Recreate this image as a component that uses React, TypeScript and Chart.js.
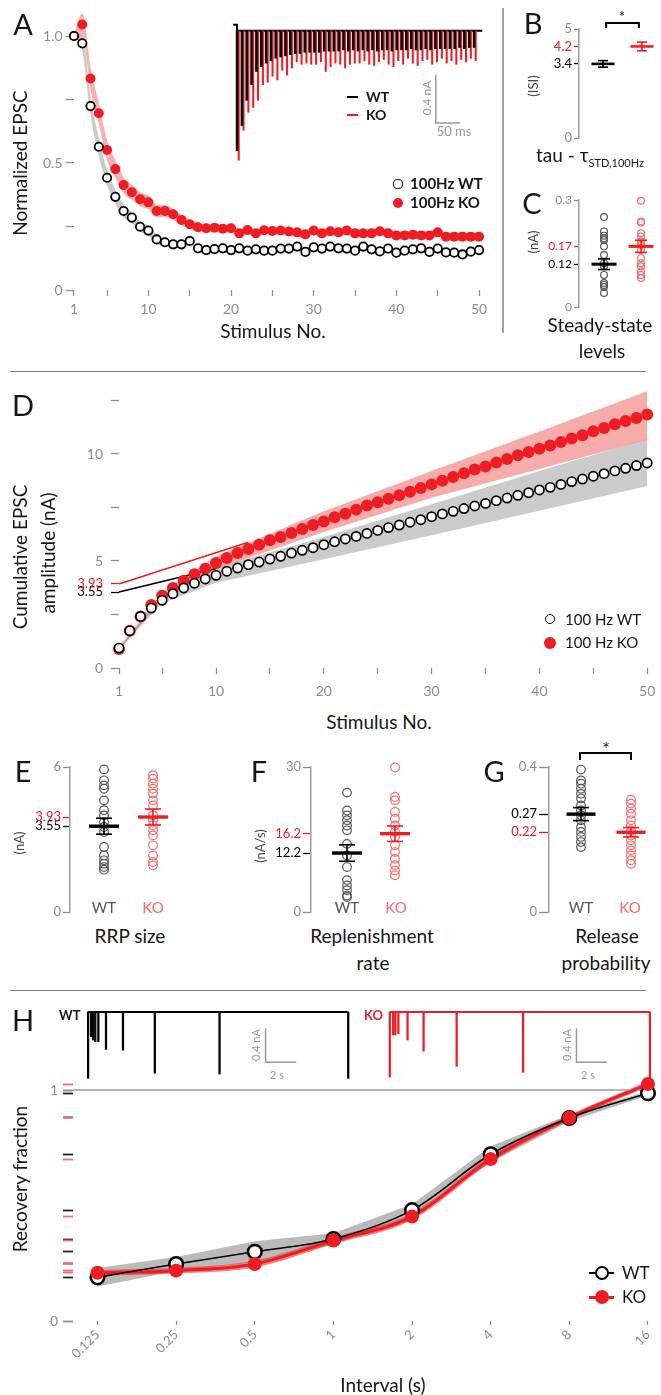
import React, { useEffect, useRef } from 'react';
import { Chart, registerables } from 'chart.js';

Chart.register(...registerables);

const FONT = 'Lato, "Open Sans", "DejaVu Sans", sans-serif';
Chart.defaults.font.family = FONT;

const RED = '#ee1d24';
const PINK = '#f76b6b';
const DOT_GRAY = '#555555';
const TICK_GRAY = '#8c8c8c';
const AXIS_GRAY = '#9d9d9d';
const INK = '#161616';

// ---------------- Panel A: normalized EPSC (100 Hz) ----------------
const stimNo = [1, 2, 3, 4, 5, 6, 7, 8, 9, 10, 11, 12, 13, 14, 15, 16, 17, 18, 19, 20, 21, 22, 23, 24, 25,
  26, 27, 28, 29, 30, 31, 32, 33, 34, 35, 36, 37, 38, 39, 40, 41, 42, 43, 44, 45, 46, 47, 48, 49, 50];
const normWT = [1.0, 0.971, 0.724, 0.564, 0.442, 0.367, 0.311, 0.285, 0.249, 0.234,
  0.199, 0.188, 0.180, 0.180, 0.193, 0.164, 0.157, 0.161, 0.164, 0.157,
  0.164, 0.155, 0.160, 0.155, 0.155, 0.163, 0.163, 0.171, 0.150, 0.168,
  0.163, 0.171, 0.164, 0.163, 0.155, 0.171, 0.160, 0.152, 0.163, 0.147,
  0.155, 0.160, 0.164, 0.150, 0.163, 0.148, 0.147, 0.140, 0.151, 0.157];
const normKO = [1.0, 1.045, 0.833, 0.696, 0.551, 0.476, 0.413, 0.385, 0.357, 0.345,
  0.311, 0.311, 0.298, 0.276, 0.259, 0.247, 0.243, 0.245, 0.241, 0.243,
  0.223, 0.236, 0.223, 0.235, 0.232, 0.234, 0.230, 0.227, 0.219, 0.234,
  0.223, 0.231, 0.227, 0.234, 0.223, 0.223, 0.223, 0.231, 0.223, 0.215,
  0.215, 0.218, 0.215, 0.215, 0.227, 0.210, 0.210, 0.210, 0.210, 0.210];
const normWTsem = [0.005, 0.03, 0.035, 0.035, 0.03, 0.028, 0.025, 0.022, 0.02, 0.02,
  0.018, 0.016, 0.015, 0.015, 0.015, 0.013, 0.013, 0.013, 0.013, 0.013,
  0.013, 0.013, 0.013, 0.013, 0.013, 0.013, 0.013, 0.013, 0.013, 0.013,
  0.013, 0.013, 0.013, 0.013, 0.013, 0.013, 0.013, 0.013, 0.013, 0.013,
  0.013, 0.013, 0.013, 0.013, 0.013, 0.013, 0.013, 0.013, 0.013, 0.013];
const normKOsem = [0.005, 0.045, 0.045, 0.04, 0.038, 0.035, 0.032, 0.03, 0.028, 0.027,
  0.025, 0.024, 0.022, 0.02, 0.019, 0.018, 0.017, 0.017, 0.016, 0.016,
  0.016, 0.016, 0.016, 0.016, 0.016, 0.016, 0.016, 0.016, 0.016, 0.016,
  0.016, 0.016, 0.016, 0.016, 0.016, 0.016, 0.016, 0.016, 0.016, 0.016,
  0.016, 0.016, 0.016, 0.016, 0.016, 0.016, 0.016, 0.016, 0.016, 0.016];
const aXTicks = [1, 5, 10, 15, 20, 25, 30, 35, 40, 45, 50];
const aXTickLabels = ['1', '', '10', '', '20', '', '30', '', '40', '', '50'];
const aYTicks = [0, 0.25, 0.5, 0.75, 1];
const aYTickLabels = ['0', '', '0.5', '', '1.0'];

// inset: example EPSC trains (nA), one response per 10 ms stimulus
const STIM_MS = 10;
const insetWTnA = [1.00, 0.79, 0.58, 0.45, 0.34, 0.30, 0.27, 0.25, 0.23, 0.22,
  0.21, 0.20, 0.19, 0.19, 0.18, 0.18, 0.18, 0.18, 0.17, 0.17,
  0.17, 0.17, 0.16, 0.17, 0.16, 0.17, 0.16, 0.17, 0.16, 0.17,
  0.16, 0.16, 0.17, 0.16, 0.16, 0.16, 0.15, 0.16, 0.16, 0.15,
  0.16, 0.15, 0.15, 0.15, 0.15, 0.15, 0.14, 0.15, 0.14, 0.14];
const insetKOnA = [1.08, 0.83, 0.68, 0.64, 0.58, 0.45, 0.43, 0.38, 0.41, 0.33,
  0.37, 0.31, 0.26, 0.28, 0.27, 0.28, 0.28, 0.26, 0.34, 0.30,
  0.27, 0.28, 0.31, 0.28, 0.27, 0.27, 0.25, 0.28, 0.29, 0.26,
  0.24, 0.28, 0.30, 0.25, 0.28, 0.23, 0.27, 0.29, 0.25, 0.24,
  0.28, 0.26, 0.23, 0.27, 0.25, 0.28, 0.24, 0.26, 0.23, 0.25];
const insetBaseT = [-10, -2, -2, 505];
const insetBaseV = [0.05, 0.05, 0, 0];
const insetBar = { t: 409, v: -0.77, ms: 50, nA: 0.4 };

// ---------------- Panel B: tau ----------------
const tauMean = [3.4, 4.2];
const tauSem = [0.15, 0.2];
const bTicks = [0, 3.4, 4.2, 5];

// ---------------- Panel C: steady state (nA) ----------------
const ssWT = [0.252, 0.212, 0.200, 0.193, 0.188, 0.170, 0.146, 0.123, 0.114, 0.090, 0.067, 0.062, 0.056, 0.039];
const ssKO = [0.298, 0.240, 0.237, 0.207, 0.198, 0.184, 0.174, 0.160, 0.137, 0.123, 0.114, 0.100, 0.090, 0.081];
const ssMean = [0.12, 0.17];
const ssSem = [0.015, 0.017];
const cTicks = [0, 0.12, 0.17, 0.3];

// ---------------- Panel D: cumulative EPSC (nA) ----------------
const cumWT = [0.93, 1.74, 2.41, 2.80, 3.16, 3.47, 3.74, 3.96, 4.16, 4.33,
  4.52, 4.67, 4.83, 4.95, 5.09, 5.22, 5.37, 5.50, 5.62, 5.76,
  5.90, 6.03, 6.15, 6.29, 6.43, 6.56, 6.68, 6.81, 6.93, 7.07,
  7.20, 7.32, 7.45, 7.57, 7.69, 7.82, 7.94, 8.07, 8.19, 8.32,
  8.44, 8.58, 8.71, 8.83, 8.96, 9.08, 9.21, 9.33, 9.46, 9.58];
const cumKO = [0.89, 1.74, 2.41, 2.94, 3.38, 3.74, 4.08, 4.38, 4.64, 4.91,
  5.14, 5.37, 5.56, 5.76, 5.97, 6.12, 6.31, 6.50, 6.68, 6.85,
  7.04, 7.21, 7.40, 7.59, 7.74, 7.91, 8.07, 8.24, 8.41, 8.58,
  8.75, 8.93, 9.10, 9.27, 9.42, 9.60, 9.77, 9.94, 10.09, 10.25,
  10.40, 10.56, 10.72, 10.87, 11.06, 11.21, 11.39, 11.54, 11.68, 11.84];
const cumBandStim = [1, 5, 10, 20, 30, 40, 50];
const cumWTlo = [0.86, 3.02, 3.98, 5.08, 6.20, 7.35, 8.50];
const cumWThi = [1.00, 3.30, 4.68, 6.12, 7.65, 9.20, 10.70];
const cumKOlo = [0.82, 3.24, 4.62, 6.35, 7.95, 9.30, 10.67];
const cumKOhi = [0.96, 3.52, 5.22, 7.32, 9.20, 11.05, 12.93];
const fitEndStim = [10, 13];
const dXTicks = [1, 5, 10, 15, 20, 25, 30, 35, 40, 45, 50];
const dXTickLabels = ['1', '', '10', '', '20', '', '30', '', '40', '', '50'];

// ---------------- Panels E, F, G ----------------
const rrpWT = [5.90, 5.45, 5.24, 5.10, 4.62, 4.21, 4.00, 3.72, 3.52, 3.31, 2.69, 2.34, 2.14, 2.00, 1.86, 1.75];
const rrpKO = [5.66, 5.52, 5.31, 5.10, 4.90, 4.62, 4.41, 4.00, 3.79, 3.59, 3.38, 3.17, 2.76, 2.34, 2.07, 1.93];
const rrpMean = [3.55, 3.93];
const rrpSem = [0.33, 0.33];
const repWT = [24.7, 21.0, 20.0, 19.0, 17.9, 16.9, 14.1, 11.7, 9.3, 6.6, 5.5, 4.5, 3.4, 3.1];
const repKO = [29.9, 23.8, 23.1, 20.7, 19.3, 17.9, 16.6, 15.5, 13.8, 12.4, 11.0, 9.7, 8.6, 7.6];
const repMean = [12.2, 16.2];
const repSem = [1.7, 1.6];
const prWT = [0.393, 0.363, 0.354, 0.340, 0.326, 0.313, 0.294, 0.280, 0.267, 0.253, 0.234, 0.221, 0.207, 0.193, 0.179];
const prKO = [0.310, 0.299, 0.285, 0.271, 0.253, 0.239, 0.225, 0.211, 0.198, 0.184, 0.170, 0.156, 0.143, 0.133];
const prMean = [0.27, 0.22];
const prSem = [0.018, 0.013];

// ---------------- Panel H: recovery ----------------
const intervalLabels = ['0.125', '0.25', '0.5', '1', '2', '4', '8', '16'];
const recWT = [0.189, 0.247, 0.300, 0.355, 0.480, 0.722, 0.879, 0.986];
const recKO = [0.209, 0.218, 0.247, 0.348, 0.452, 0.701, 0.880, 1.026];
const recWTsem = [0.04, 0.03, 0.045, 0.025, 0.025, 0.035, 0.015, 0.01];
const recKOsem = [0.012, 0.012, 0.015, 0.015, 0.015, 0.015, 0.012, 0.012];
const traceWTt = [0, 0.2, 0.33, 0.47, 0.67, 1.17, 2.28, 4.36, 8.59, 17.0];
const traceWTa = [0.78, 0.29, 0.33, 0.35, 0.35, 0.44, 0.45, 0.72, 0.73, 0.78];
const traceKOt = [0, 0.22, 0.36, 0.56, 1.16, 2.21, 4.37, 8.71, 17.0];
const traceKOa = [0.765, 0.27, 0.27, 0.255, 0.33, 0.46, 0.64, 0.71, 0.84];
const traceBarT0 = [11.6, 12.2];
const traceBar = { v: -0.59, s: 2, nA: 0.4 };

// ---------------- helpers ----------------
const d = (o: any) => ({ clip: false, ...o });
const zeroPad = (s: any) => { s.paddingLeft = 0; s.paddingRight = 0; s.paddingTop = 0; s.paddingBottom = 0; };
const TR = 'rgba(0,0,0,0)';

function opts(scales: any, padding: any) {
  return {
    responsive: false,
    animation: false,
    events: [],
    layout: { padding, autoPadding: false },
    plugins: { legend: { display: false }, tooltip: { enabled: false } },
    scales,
  };
}

function hidden(min: number, max: number) {
  return { type: 'linear', display: false, min, max, bounds: 'data', offset: false, grid: { offset: false } };
}

function leftAxis(p: any) {
  return {
    type: 'linear', position: 'left', min: p.min, max: p.max, bounds: 'data',
    afterBuildTicks: (s: any) => { s.ticks = p.ticks.map((v: number) => ({ value: v })); },
    afterFit: (s: any) => { s.width = p.width; zeroPad(s); },
    ticks: {
      autoSkip: false,
      padding: p.pad,
      color: (c: any) => (c.tick ? p.color(c.tick.value, c.index) : TICK_GRAY),
      font: (c: any) => ({ family: FONT, size: c.tick ? p.size(c.tick.value, c.index) : 13 }),
      callback: (v: any, i: number) => p.label(Number(v), i),
    },
    grid: {
      display: true, drawOnChartArea: false, drawTicks: true, tickLength: p.tickLen, tickWidth: p.tickW || 1.3,
      tickColor: (c: any) => (c.tick ? p.color(c.tick.value, c.index) : TICK_GRAY),
    },
    border: p.border ? { display: true, color: AXIS_GRAY, width: 1.5 } : { display: false },
  };
}

function bottomAxis(p: any) {
  return {
    type: 'linear', position: 'bottom', min: p.min, max: p.max, bounds: 'data', offset: false,
    afterBuildTicks: (s: any) => { s.ticks = p.ticks.map((v: number) => ({ value: v })); },
    afterFit: (s: any) => { s.height = p.height; zeroPad(s); },
    ticks: {
      autoSkip: false, padding: p.pad, color: TICK_GRAY,
      font: { family: FONT, size: p.size },
      minRotation: p.rot || 0, maxRotation: p.rot || 0,
      callback: (v: any, i: number) => p.label(Number(v), i),
    },
    grid: { display: true, drawOnChartArea: false, drawTicks: true, tickLength: p.tickLen, tickWidth: 1.2, tickColor: TICK_GRAY, offset: false },
    border: { display: false },
  };
}

function band(xs: number[], ys: number[], color: string | null, tension = 'monotone') {
  return d({
    type: 'line', data: xs.map((x, i) => ({ x, y: ys[i] })), borderColor: TR, borderWidth: 0, pointRadius: 0,
    fill: color ? '+1' : false, backgroundColor: color || TR, cubicInterpolationMode: tension,
  });
}

// ---------------- chart builders ----------------
function makeA() {
  const pts = (ys: number[]) => stimNo.map((n, i) => ({ x: n, y: ys[i] }));
  return {
    type: 'scatter',
    data: {
      datasets: [
        d({ type: 'scatter', data: pts(normWT), pointRadius: 4.2, pointBorderWidth: 1.8, borderColor: '#000', backgroundColor: '#fff', pointBorderColor: '#000', pointBackgroundColor: '#fff' }),
        d({ type: 'scatter', data: pts(normKO), pointRadius: 5, pointBorderWidth: 0, borderColor: RED, backgroundColor: RED, pointBorderColor: RED, pointBackgroundColor: RED }),
        band(stimNo, normKO.map((v, i) => v + normKOsem[i]), 'rgba(240,80,80,0.45)'),
        band(stimNo, normKO.map((v, i) => v - normKOsem[i]), null),
        band(stimNo, normWT.map((v, i) => v + normWTsem[i]), 'rgba(150,150,150,0.5)'),
        band(stimNo, normWT.map((v, i) => v - normWTsem[i]), null),
      ],
    },
    options: opts({
      x: bottomAxis({ min: 0.94, max: 51, height: 40, ticks: aXTicks, label: (_v: number, i: number) => aXTickLabels[i], tickLen: 6, pad: 5, size: 14 }),
      y: leftAxis({ min: 0, max: 1.1, width: 73.5, ticks: aYTicks, label: (_v: number, i: number) => aYTickLabels[i], color: () => TICK_GRAY, size: () => 14, tickLen: 8, pad: 3 }),
    }, { left: 0, top: 10.6, right: 12.7, bottom: 0 }),
  };
}

function makeInset() {
  const t = stimNo.map((n) => (n - 1) * STIM_MS);
  return {
    type: 'bar',
    data: {
      datasets: [
        d({ type: 'bar', data: t.map((x, i) => ({ x, y: [0, -insetWTnA[i]] })), backgroundColor: '#000', borderWidth: 0, barThickness: 1.9, grouped: true }),
        d({ type: 'bar', data: t.map((x, i) => ({ x, y: [0, -insetKOnA[i]] })), backgroundColor: RED, borderWidth: 0, barThickness: 1.4, grouped: true }),
        d({ type: 'line', data: insetBaseT.map((x, i) => ({ x, y: insetBaseV[i] })), borderColor: '#000', borderWidth: 2, pointRadius: 0 }),
        d({ type: 'line', data: [{ x: insetBar.t, y: insetBar.v + insetBar.nA }, { x: insetBar.t, y: insetBar.v }, { x: insetBar.t + insetBar.ms, y: insetBar.v }], borderColor: '#9a9a9a', borderWidth: 1.5, pointRadius: 0 }),
      ],
    },
    options: opts({ x: hidden(-26.9, 510.7), y: hidden(-1.119, 0.131) }, 0),
  };
}

function makeDots(p: any) {
  const cols = ['#000', RED];
  const sets: any[] = [];
  p.mean.forEach((m: number, i: number) => sets.push(d({ type: 'scatter', data: [{ x: i, y: m }], pointStyle: 'line', pointRadius: p.barR, pointBorderWidth: p.barW, borderColor: cols[i], backgroundColor: cols[i], pointBorderColor: cols[i], pointBackgroundColor: cols[i] })));
  p.mean.forEach((m: number, i: number) => sets.push(d({ type: 'line', data: [{ x: i, y: m - p.sem[i] }, { x: i, y: m + p.sem[i] }], borderColor: cols[i], borderWidth: 1.6, pointStyle: 'line', pointRadius: p.capR, pointBorderWidth: 1.6, pointBorderColor: cols[i], pointBackgroundColor: cols[i] })));
  if (p.bracket) {
    const b = p.bracket;
    sets.push(d({ type: 'line', data: [{ x: b.x0, y: b.drop }, { x: b.x0, y: b.level }, { x: b.x1, y: b.level }, { x: b.x1, y: b.drop }], borderColor: '#000', borderWidth: 2, pointRadius: 0 }));
  }
  [p.wt, p.ko].forEach((vals: number[] | undefined, i: number) => {
    if (!vals) return;
    const c = i ? PINK : DOT_GRAY;
    sets.push(d({ type: 'scatter', data: vals.map((v) => ({ x: i, y: v })), pointRadius: p.dotR, pointBorderWidth: 1.2, borderColor: c, backgroundColor: TR, pointBorderColor: c, pointBackgroundColor: TR }));
  });
  const color = (v: number) => (v === p.mean[0] ? '#000' : v === p.mean[1] ? RED : TICK_GRAY);
  return {
    type: 'scatter',
    data: { datasets: sets },
    options: opts({
      x: hidden(p.xMin, p.xMax),
      y: leftAxis({ min: 0, max: p.ymax, width: p.yW, ticks: p.ticks, label: (v: number) => String(v), color, size: () => p.font, tickLen: p.tickLen, pad: p.tickPad, border: true }),
    }, p.pad),
  };
}

function makeD() {
  const pts = (ys: number[]) => stimNo.map((n, i) => ({ x: n, y: ys[i] }));
  const fit = (i: number, c: string) => d({
    type: 'line',
    data: [{ x: 1, y: rrpMean[i] }, { x: fitEndStim[i], y: rrpMean[i] + repMean[i] * (STIM_MS / 1000) * (fitEndStim[i] - 1) }],
    borderColor: c, borderWidth: 1.6, pointRadius: 0,
  });
  const yTicks = [0, 2.5, rrpMean[0], rrpMean[1], 5, 7.5, 10, 12.5];
  const yLab = (v: number) => (v === 0 || v === 5 || v === 10 ? String(v) : v === rrpMean[0] || v === rrpMean[1] ? v.toFixed(2) : '');
  const yCol = (v: number) => (v === rrpMean[0] ? '#000' : v === rrpMean[1] ? RED : TICK_GRAY);
  return {
    type: 'scatter',
    data: {
      datasets: [
        d({ type: 'scatter', data: pts(cumWT), pointRadius: 4.6, pointBorderWidth: 1.7, borderColor: '#000', backgroundColor: '#fff', pointBorderColor: '#000', pointBackgroundColor: '#fff' }),
        d({ type: 'scatter', data: pts(cumKO), pointRadius: 6, pointBorderWidth: 0, borderColor: RED, backgroundColor: RED, pointBorderColor: RED, pointBackgroundColor: RED }),
        fit(0, '#000'),
        fit(1, RED),
        band(cumBandStim, cumKOhi, 'rgba(240,90,90,0.5)', 'default'),
        band(cumBandStim, cumKOlo, null, 'default'),
        band(cumBandStim, cumWThi, 'rgba(160,160,160,0.55)', 'default'),
        band(cumBandStim, cumWTlo, null, 'default'),
      ],
    },
    options: opts({
      x: bottomAxis({ min: 1, max: 50.26, height: 42, ticks: dXTicks, label: (_v: number, i: number) => dXTickLabels[i], tickLen: 6, pad: 9, size: 14 }),
      y: leftAxis({ min: 0, max: 13.2, width: 119, ticks: yTicks, label: yLab, color: yCol, size: (v: number) => (v === rrpMean[0] || v === rrpMean[1] ? 13 : 14), tickLen: 8, pad: 8 }),
    }, { left: 0, top: 5.5, right: 11, bottom: 0 }),
  };
}

function makeH() {
  const xs = intervalLabels.map((_l, i) => i);
  const pts = (ys: number[]) => xs.map((x, i) => ({ x, y: ys[i] }));
  const xMin = -0.3115;
  const yTicks = [0, 1, ...recWT, ...recKO];
  const yCol = (_v: number, i: number) => (i < 2 ? TICK_GRAY : i < 2 + recWT.length ? '#222' : PINK);
  return {
    type: 'scatter',
    data: {
      datasets: [
        d({ type: 'scatter', data: pts(recKO), pointRadius: 7, pointBorderWidth: 0, borderColor: RED, backgroundColor: RED, pointBorderColor: RED, pointBackgroundColor: RED }),
        d({ type: 'scatter', data: pts(recWT), pointRadius: 6.8, pointBorderWidth: 2.5, borderColor: '#000', backgroundColor: '#fff', pointBorderColor: '#000', pointBackgroundColor: '#fff' }),
        d({ type: 'line', data: pts(recWT), borderColor: '#000', borderWidth: 1.6, pointRadius: 0, cubicInterpolationMode: 'monotone' }),
        d({ type: 'line', data: pts(recKO), borderColor: RED, borderWidth: 3, pointRadius: 0, cubicInterpolationMode: 'monotone' }),
        d({ type: 'line', data: [{ x: xMin, y: 1 }, { x: xs[xs.length - 1], y: 1 }], borderColor: '#b4b4b4', borderWidth: 2, pointRadius: 0 }),
        band(xs, recKO.map((v, i) => v + recKOsem[i]), 'rgba(240,40,40,0.6)'),
        band(xs, recKO.map((v, i) => v - recKOsem[i]), null),
        band(xs, recWT.map((v, i) => v + recWTsem[i]), 'rgba(140,140,140,0.6)', 'default'),
        band(xs, recWT.map((v, i) => v - recWTsem[i]), null, 'default'),
      ],
    },
    options: opts({
      x: bottomAxis({ min: xMin, max: 7.051, height: 74, ticks: xs, label: (v: number) => intervalLabels[v], tickLen: 4, pad: 2, size: 13, rot: 45 }),
      y: leftAxis({ min: 0, max: 1.12, width: 73, ticks: yTicks, label: (v: number, i: number) => (i < 2 ? String(v) : ''), color: yCol, size: () => 14, tickLen: 10, pad: 5, tickW: 1.8 }),
    }, { left: 0, top: 2.3, right: 9, bottom: 0 }),
  };
}

function makeTrace(ts: number[], as: number[], color: string, xMin: number, xMax: number, barT0: number) {
  return {
    type: 'bar',
    data: {
      datasets: [
        d({ type: 'bar', data: ts.map((x, i) => ({ x, y: [0, -as[i]] })), backgroundColor: color, borderWidth: 0, barThickness: 1.6 }),
        d({ type: 'line', data: [{ x: ts[0], y: 0 }, { x: ts[ts.length - 1], y: 0 }], borderColor: color, borderWidth: 2, pointRadius: 0 }),
        d({ type: 'line', data: [{ x: barT0, y: traceBar.v + traceBar.nA }, { x: barT0, y: traceBar.v }, { x: barT0 + traceBar.s, y: traceBar.v }], borderColor: '#9a9a9a', borderWidth: 1.5, pointRadius: 0 }),
      ],
    },
    options: opts({ x: hidden(xMin, xMax), y: hidden(-0.859, 0.141) }, 0),
  };
}

// ---------------- React components ----------------
function ChartBox({ x, y, w, h, make }: any) {
  const ref = useRef<HTMLCanvasElement>(null);
  useEffect(() => {
    const chart = new Chart(ref.current as HTMLCanvasElement, make() as any);
    return () => chart.destroy();
  }, []);
  return <canvas ref={ref} width={w} height={h} style={{ position: 'absolute', left: x, top: y, width: w, height: h }} />;
}

function T({ x, y, s = 19, c = INK, w = 400, rot = 0, left = false, children }: any) {
  const tr = (left ? 'translate(0,-50%)' : 'translate(-50%,-50%)') + (rot ? ` rotate(${rot}deg)` : '');
  return (
    <div style={{ position: 'absolute', left: x, top: y, transform: tr, fontSize: s, color: c, fontWeight: w, whiteSpace: 'nowrap', lineHeight: 1.15, fontFamily: FONT }}>
      {children}
    </div>
  );
}

function Line({ x1, y1, x2, y2, c = '#888', w = 1 }: any) {
  const horiz = y1 === y2;
  return (
    <div style={{ position: 'absolute', left: horiz ? x1 : x1 - w / 2, top: horiz ? y1 - w / 2 : y1, width: horiz ? x2 - x1 : w, height: horiz ? w : y2 - y1, background: c }} />
  );
}

function Dot({ x, y, r, fill, stroke = 'none', bw = 0 }: any) {
  return (
    <div style={{ position: 'absolute', left: x - r, top: y - r, width: 2 * r, height: 2 * r, borderRadius: '50%', background: fill, border: bw ? `${bw}px solid ${stroke}` : 'none', boxSizing: 'border-box' }} />
  );
}

export default function App() {
  return (
    <div style={{ position: 'absolute', left: 0, top: 0, width: 661, height: 1395, background: '#fff', overflow: 'hidden', fontFamily: FONT }}>
      <ChartBox x={0} y={0} w={500} h={330} make={makeA} />
      <ChartBox x={225} y={15} w={260} h={150} make={makeInset} />
      <ChartBox x={520} y={10} w={141} h={135} make={() => makeDots({
        mean: tauMean, sem: tauSem, ymax: 5, yW: 59, xMin: -0.6154, xMax: 1.4615, ticks: bTicks,
        font: 13, tickLen: 5, tickPad: 2, barR: 11.5, barW: 2.6, capR: 5, pad: { left: 0, top: 19, right: 1, bottom: 7 },
        bracket: { x0: 0.08, x1: 0.92, level: 5.28, drop: 5.05 },
      })} />
      <ChartBox x={520} y={185} w={141} h={130} make={() => makeDots({
        wt: ssWT, ko: ssKO, mean: ssMean, sem: ssSem, ymax: 0.3, yW: 59, xMin: -0.676, xMax: 1.514, ticks: cTicks,
        font: 12, tickLen: 5, tickPad: 2, barR: 12.5, barW: 3, capR: 6, dotR: 3.4, pad: { left: 0, top: 15, right: 1, bottom: 8 },
      })} />
      <ChartBox x={0} y={380} w={661} h={330} make={makeD} />
      <ChartBox x={0} y={750} w={200} h={170} make={() => makeDots({
        wt: rrpWT, ko: rrpKO, mean: rrpMean, sem: rrpSem, ymax: 6, yW: 70, xMin: -0.694, xMax: 1.857, ticks: [0, rrpMean[0], rrpMean[1], 6],
        font: 13, tickLen: 7, tickPad: 2, barR: 15, barW: 3.4, capR: 8, dotR: 4.3, pad: { left: 0, top: 17, right: 5, bottom: 8 },
      })} />
      <ChartBox x={240} y={750} w={200} h={170} make={() => makeDots({
        wt: repWT, ko: repKO, mean: repMean, sem: repSem, ymax: 30, yW: 71, xMin: -0.75, xMax: 1.833, ticks: [0, repMean[0], repMean[1], 30],
        font: 13, tickLen: 8, tickPad: 2, barR: 15, barW: 3.4, capR: 8, dotR: 4.3, pad: { left: 0, top: 17, right: 5, bottom: 8 },
      })} />
      <ChartBox x={480} y={735} w={181} h={185} make={() => makeDots({
        wt: prWT, ko: prKO, mean: prMean, sem: prSem, ymax: 0.4, yW: 69, xMin: -0.64, xMax: 1.58, ticks: [0, prMean[1], prMean[0], 0.4],
        font: 13, tickLen: 10, tickPad: 2, barR: 14.5, barW: 3.4, capR: 8, dotR: 4.3, pad: { left: 0, top: 32, right: 1, bottom: 8 },
        bracket: { x0: -0.02, x1: 1.0, level: 0.4386, drop: 0.419 },
      })} />
      <ChartBox x={80} y={1000} w={280} h={85} make={() => makeTrace(traceWTt, traceWTa, '#000', -0.529, 17.77, traceBarT0[0])} />
      <ChartBox x={380} y={1000} w={281} h={85} make={() => makeTrace(traceKOt, traceKOa, RED, -0.64, 17.725, traceBarT0[1])} />
      <ChartBox x={0} y={1060} w={661} h={335} make={makeH} />

      {/* Panel A text */}
      <T x={23} y={24} s={29}>A</T>
      <T x={20} y={163} rot={-90}>Normalized EPSC</T>
      <T x={273} y={331}>Stimulus No.</T>
      <Line x1={347} x2={358} y1={97} y2={97} c="#000" w={2} />
      <T x={366} y={97} s={14} w={700} left>WT</T>
      <Line x1={347} x2={358} y1={115} y2={115} c={RED} w={2} />
      <T x={366} y={115} s={14} w={700} left>KO</T>
      <T x={427} y={98} s={12} c="#999" rot={-90}>0.4 nA</T>
      <T x={454} y={131} s={13} c="#999">50 ms</T>
      <Dot x={398} y={184} r={4.6} fill="#fff" stroke="#000" bw={1.8} />
      <T x={410} y={184} s={15} w={700} left>100Hz WT</T>
      <Dot x={398} y={203} r={5.3} fill={RED} />
      <T x={410} y={203} s={15} w={700} left>100Hz KO</T>

      <Line x1={503} x2={503} y1={8} y2={333} c="#a0a0a0" w={1.5} />

      {/* Panel B, C text */}
      <T x={533} y={23} s={29}>B</T>
      <T x={622} y={17} s={15}>*</T>
      <T x={533} y={86} s={13} c="#444" rot={-90}>(ISI)</T>
      <T x={536} y={155} s={19} left>
        tau - τ<span style={{ fontSize: 11, position: 'relative', top: 5 }}>STD,100Hz</span>
      </T>
      <T x={532} y={203} s={29}>C</T>
      <T x={533} y={242} s={13} c="#444" rot={-90}>(nA)</T>
      <T x={600} y={325}>Steady-state</T>
      <T x={602} y={351}>levels</T>

      <Line x1={10} x2={646} y1={371} y2={371} c="#808080" w={1} />

      {/* Panel D text */}
      <T x={23} y={405} s={29}>D</T>
      <T x={20} y={557} rot={-90}>Cumulative EPSC</T>
      <T x={48} y={553} rot={-90}>amplitude (nA)</T>
      <T x={379} y={722}>Stimulus No.</T>
      <Dot x={550} y={619} r={5.2} fill="#fff" stroke="#000" bw={1.8} />
      <T x={565} y={620} s={15} left>100 Hz WT</T>
      <Dot x={550} y={643} r={6.3} fill={RED} />
      <T x={565} y={643} s={15} left>100 Hz KO</T>

      {/* Panels E, F, G text */}
      <T x={23} y={771} s={29}>E</T>
      <T x={259} y={771} s={29}>F</T>
      <T x={494} y={771} s={29}>G</T>
      <T x={19} y={843} s={13} c="#444" rot={-90}>(nA)</T>
      <T x={260} y={846} s={13} c="#444" rot={-90}>(nA/s)</T>
      <T x={104} y={908} s={15} c="#555">WT</T>
      <T x={153} y={908} s={15} c={PINK}>KO</T>
      <T x={347} y={908} s={15} c="#555">WT</T>
      <T x={396} y={908} s={15} c={PINK}>KO</T>
      <T x={581} y={908} s={15} c="#555">WT</T>
      <T x={630} y={908} s={15} c={PINK}>KO</T>
      <T x={130} y={936}>RRP size</T>
      <T x={372} y={936}>Replenishment</T>
      <T x={373} y={963}>rate</T>
      <T x={607} y={936}>Release</T>
      <T x={606} y={963}>probability</T>
      <T x={606} y={748} s={18}>*</T>

      <Line x1={10} x2={646} y1={990} y2={990} c="#808080" w={1} />

      {/* Panel H text */}
      <T x={23} y={1020} s={29}>H</T>
      <T x={59} y={1015} s={13} w={700} left>WT</T>
      <T x={364} y={1015} s={13} w={700} c={RED} left>KO</T>
      <T x={256} y={1045} s={11} c="#999" rot={-90}>0.4 nA</T>
      <T x={277} y={1075} s={11} c="#999">2 s</T>
      <T x={567} y={1045} s={11} c="#999" rot={-90}>0.4 nA</T>
      <T x={588} y={1075} s={11} c="#999">2 s</T>
      <T x={20} y={1179} rot={-90}>Recovery fraction</T>
      <T x={383} y={1385}>Interval (s)</T>
      <Line x1={589} x2={614} y1={1273} y2={1273} c="#000" w={2.5} />
      <Dot x={602} y={1273} r={7} fill="#fff" stroke="#000" bw={2.5} />
      <T x={622} y={1273} s={17} left>WT</T>
      <Line x1={589} x2={614} y1={1297} y2={1297} c={RED} w={3} />
      <Dot x={602} y={1297} r={7} fill={RED} />
      <T x={622} y={1297} s={17} left>KO</T>
    </div>
  );
}
